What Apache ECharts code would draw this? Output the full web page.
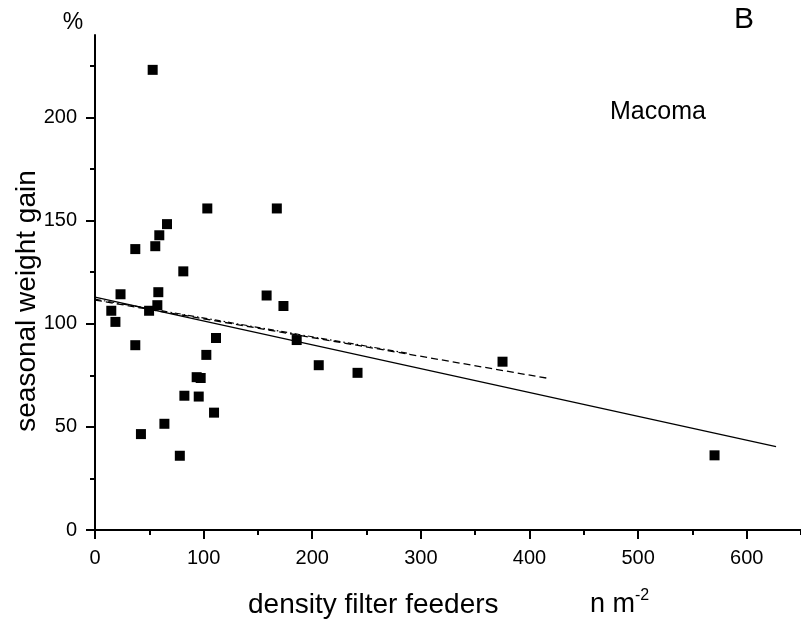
<!DOCTYPE html>
<html>
<head>
<meta charset="utf-8">
<script src="https://cdn.jsdelivr.net/npm/echarts@6/dist/echarts.min.js"></script>
<style>html,body{margin:0;padding:0;background:#fff}#c{width:801px;height:627px}</style>
</head>
<body>
<div id="c"></div>
<script>
// data
const densityX = [53.1, 15.0, 18.8, 23.5, 37.1, 37.1, 42.3, 49.8, 55.5, 59.2, 58.3, 57.4, 66.3, 63.9, 78.1, 81.3,
  82.3, 93.6, 97.3, 95.5, 102.5, 103.4, 111.4, 109.6, 158.0, 167.4, 173.5, 185.7, 206.0, 241.7, 375.2, 570.4];
const weightGain = [223.1, 106.3, 100.9, 114.3, 136.2, 89.6, 46.5, 106.3, 137.6, 142.9, 115.3, 109.0, 148.3, 51.5, 36.0, 125.4,
  65.1, 74.1, 73.7, 64.7, 84.9, 155.9, 93.1, 56.9, 113.7, 155.9, 108.6, 92.1, 79.9, 76.2, 81.6, 36.2];
const fitSolid = [[0, 112.9], [627, 40.4]];
const fitDashed = [[0, 111.5], [416.5, 73.6]];
const fitDashDot = [[0, 111.9], [290, 85.5]];
const xMajorTicks = [0, 100, 200, 300, 400, 500, 600];
const xMinorTicks = [50, 150, 250, 350, 450, 550, 650];
const yMajorTicks = [0, 50, 100, 150, 200];
const yMinorTicks = [25, 75, 125, 175, 225];

const FONT = 'Liberation Sans, Arial, sans-serif';
const chart = echarts.init(document.getElementById('c'), null, {renderer: 'canvas'});
const pts = densityX.map((x, i) => [x, weightGain[i]]);

chart.setOption({
  animation: false,
  backgroundColor: '#fff',
  grid: {left: 95, top: 35, width: 707, height: 495, containLabel: false},
  xAxis: [{
    type: 'value', min: 0, max: 650, position: 'bottom',
    axisLine: {show: true, onZero: false, lineStyle: {color: '#000', width: 2}},
    axisTick: {show: true, inside: false, length: 9, customValues: xMajorTicks, lineStyle: {color: '#000', width: 2}},
    axisLabel: {show: true, customValues: xMajorTicks, margin: 18, color: '#000', fontSize: 20, fontFamily: FONT},
    splitLine: {show: false}
  }, {
    type: 'value', min: 0, max: 650, position: 'bottom',
    axisLine: {show: false, onZero: false},
    axisTick: {show: true, length: 5, customValues: xMinorTicks, lineStyle: {color: '#000', width: 2}},
    axisLabel: {show: false},
    splitLine: {show: false}
  }],
  yAxis: [{
    type: 'value', min: 0, max: 240, position: 'left',
    axisLine: {show: true, onZero: false, lineStyle: {color: '#000', width: 2}},
    axisTick: {show: true, length: 9, customValues: yMajorTicks, lineStyle: {color: '#000', width: 2}},
    axisLabel: {show: true, customValues: yMajorTicks, margin: 18, color: '#000', fontSize: 20, fontFamily: FONT},
    splitLine: {show: false}
  }, {
    type: 'value', min: 0, max: 240, position: 'left',
    axisLine: {show: false, onZero: false},
    axisTick: {show: true, length: 5, customValues: yMinorTicks, lineStyle: {color: '#000', width: 2}},
    axisLabel: {show: false},
    splitLine: {show: false}
  }],
  graphic: [
    {type: 'text', x: 73, y: 23, style: {text: '%', font: '23px ' + FONT, fill: '#000', align: 'center', verticalAlign: 'middle', textAlign: 'center', textVerticalAlign: 'middle'}},
    {type: 'text', x: 744, y: 20, style: {text: 'B', font: '30px ' + FONT, fill: '#000', align: 'center', verticalAlign: 'middle', textAlign: 'center', textVerticalAlign: 'middle'}},
    {type: 'text', x: 610, y: 112, style: {text: 'Macoma', font: '25px ' + FONT, fill: '#000', align: 'left', verticalAlign: 'middle', textAlign: 'left', textVerticalAlign: 'middle'}},
    {type: 'text', x: 27, y: 301, rotation: Math.PI / 2, style: {text: 'seasonal weight gain', font: '28px ' + FONT, fill: '#000', align: 'center', verticalAlign: 'middle', textAlign: 'center', textVerticalAlign: 'middle'}},
    {type: 'text', x: 248, y: 605, style: {text: 'density filter feeders', font: '28px ' + FONT, fill: '#000', align: 'left', verticalAlign: 'middle', textAlign: 'left', textVerticalAlign: 'middle'}},
    {type: 'text', x: 590, y: 605, style: {text: 'n m', font: '27px ' + FONT, fill: '#000', align: 'left', verticalAlign: 'middle', textAlign: 'left', textVerticalAlign: 'middle'}},
    {type: 'text', x: 635, y: 596, style: {text: '-2', font: '16px ' + FONT, fill: '#000', align: 'left', verticalAlign: 'middle', textAlign: 'left', textVerticalAlign: 'middle'}}
  ],
  series: [
    {type: 'line', data: fitSolid, symbol: 'none', lineStyle: {color: '#000', width: 1.3}, z: 2},
    {type: 'line', data: fitDashed, symbol: 'none', lineStyle: {color: '#000', width: 1.3, type: [7, 4]}, z: 2},
    {type: 'line', data: fitDashDot, symbol: 'none', lineStyle: {color: '#000', width: 1.2, type: [6, 3, 1.5, 3]}, z: 2},
    {type: 'scatter', data: pts, symbol: 'rect', symbolSize: 10, itemStyle: {color: '#000', opacity: 1}, z: 3}
  ]
});
</script>
</body>
</html>
